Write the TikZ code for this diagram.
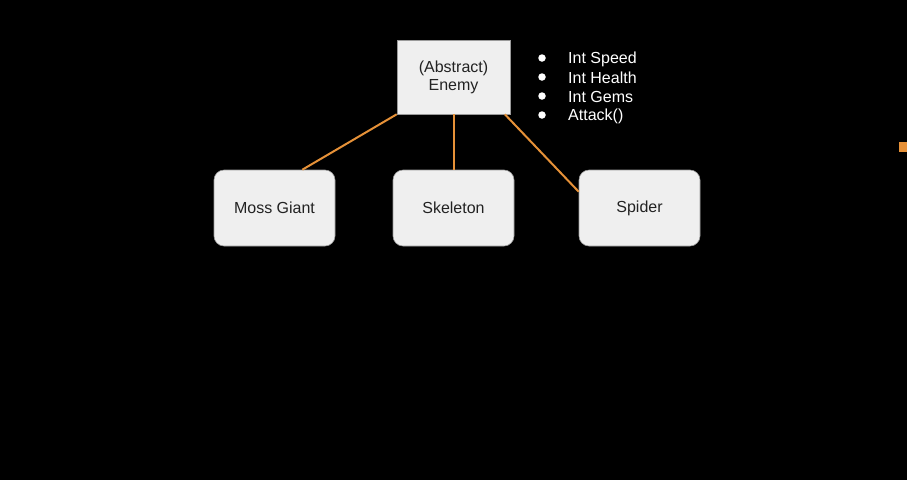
\documentclass[tikz,border=0pt]{standalone}
\usepackage{fontspec}
\setmainfont{Liberation Sans}
\usetikzlibrary{positioning}
\definecolor{boxgray}{HTML}{EFEFEF}
\definecolor{edgegray}{HTML}{9A9A9A}
\definecolor{textgray}{HTML}{222222}
\definecolor{linkorange}{HTML}{E69138}

\begin{document}
\begin{tikzpicture}[x=1pt,y=-1pt,
    classbox/.style={draw=edgegray, line width=0.6pt, fill=boxgray, text=textgray,
      font=\fontsize{16}{18}\selectfont, align=center, inner sep=0pt},
    childbox/.style={classbox, rounded corners=10pt, minimum width=121pt, minimum height=76pt},
    link/.style={draw=linkorange, line width=2pt},
    attr/.style={text=white, font=\fontsize{16}{18}\selectfont, inner sep=0pt},
    dotmark/.style={circle, fill=white, minimum size=7.5pt, inner sep=0pt}
  ]
    \useasboundingbox (0,0) rectangle (907,480);
    \fill[black] (0,0) rectangle (907,480);

    % parent and children
    \node[classbox, minimum width=113pt, minimum height=74pt] (enemy) at (453.5,77) {(Abstract)\\[0pt]Enemy};
    \node[childbox] (moss)   at (274.5,208) {Moss Giant};
    \node[childbox] (skel)   at (453.5,208) {Skeleton};
    \node[childbox] (spider) at (639.5,208) {Spider};

    % attribute list
    \foreach \txt [count=\i] in {Int Speed, Int Health, Int Gems, Attack()} {
      \node[dotmark] (dot\i) at (542,{39+19*\i}) {};
      \node[attr, anchor=west] (attr\i) at (568,{40+19*\i}) {\txt};
    }

    % inheritance lines
    \draw[link] (enemy.south west) -- (moss.54);
    \draw[link] ([xshift=0.5pt]enemy.south) -- ([xshift=0.5pt]skel.north);
    \draw[link] (enemy.-36) -- (spider.165);

    % marker at the right edge
    \fill[linkorange] (899,142) rectangle (907,152);
\end{tikzpicture}
\end{document}
